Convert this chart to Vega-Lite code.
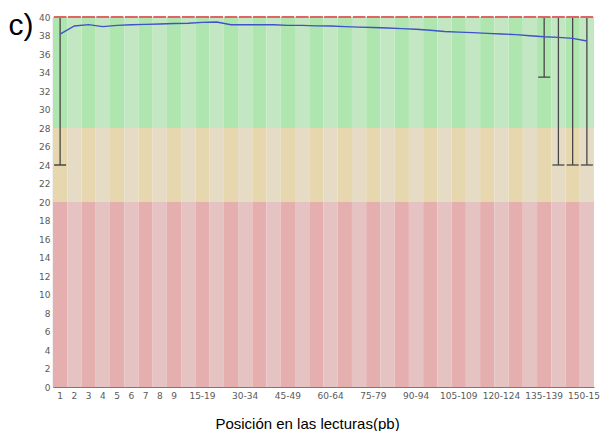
{
  "$schema": "https://vega.github.io/schema/vega-lite/v6.json",
  "autosize": {"type": "none"},
  "width": 541,
  "height": 370,
  "padding": {"left": 53, "top": 17, "right": 6, "bottom": 44},
  "background": "white",
  "config": {
    "view": {"stroke": null},
    "font": "DejaVu Sans",
    "axis": {
      "grid": false,
      "ticks": false,
      "domainColor": "#7a7a7a",
      "domainWidth": 1.2,
      "labelColor": "#5a5a5a",
      "labelFontSize": 9,
      "labelFlush": false,
      "labelOverlap": false,
      "labelBound": false,
      "titleFont": "Liberation Sans",
      "titleFontWeight": "normal",
      "titleColor": "#000000"
    },
    "axisY": {
      "tickCount": 20,
      "labelPadding": 3,
      "titleAngle": 0,
      "titleX": -45,
      "titleY": 17,
      "titleAlign": "left",
      "titleBaseline": "alphabetic",
      "titleFontSize": 30
    },
    "axisX": {
      "labelAngle": 0,
      "labelPadding": 4,
      "titleFontSize": 15,
      "titleX": 254,
      "titleY": 41,
      "titleAlign": "center",
      "titleBaseline": "alphabetic"
    }
  },
  "data": {
    "values": [
      {"pos": "1", "idx": 1, "mean": 38.16, "median": 40, "p10": 24, "p90": 40},
      {"pos": "2", "idx": 2, "mean": 39.03, "median": 40, "p10": 40, "p90": 40},
      {"pos": "3", "idx": 3, "mean": 39.17, "median": 40, "p10": 40, "p90": 40},
      {"pos": "4", "idx": 4, "mean": 38.96, "median": 40, "p10": 40, "p90": 40},
      {"pos": "5", "idx": 5, "mean": 39.1, "median": 40, "p10": 40, "p90": 40},
      {"pos": "6", "idx": 6, "mean": 39.17, "median": 40, "p10": 40, "p90": 40},
      {"pos": "7", "idx": 7, "mean": 39.2, "median": 40, "p10": 40, "p90": 40},
      {"pos": "8", "idx": 8, "mean": 39.24, "median": 40, "p10": 40, "p90": 40},
      {"pos": "9", "idx": 9, "mean": 39.3, "median": 40, "p10": 40, "p90": 40},
      {"pos": "10-14", "idx": 10, "mean": 39.33, "median": 40, "p10": 40, "p90": 40},
      {"pos": "15-19", "idx": 11, "mean": 39.42, "median": 40, "p10": 40, "p90": 40},
      {"pos": "20-24", "idx": 12, "mean": 39.46, "median": 40, "p10": 40, "p90": 40},
      {"pos": "25-29", "idx": 13, "mean": 39.17, "median": 40, "p10": 40, "p90": 40},
      {"pos": "30-34", "idx": 14, "mean": 39.17, "median": 40, "p10": 40, "p90": 40},
      {"pos": "35-39", "idx": 15, "mean": 39.17, "median": 40, "p10": 40, "p90": 40},
      {"pos": "40-44", "idx": 16, "mean": 39.16, "median": 40, "p10": 40, "p90": 40},
      {"pos": "45-49", "idx": 17, "mean": 39.1, "median": 40, "p10": 40, "p90": 40},
      {"pos": "50-54", "idx": 18, "mean": 39.09, "median": 40, "p10": 40, "p90": 40},
      {"pos": "55-59", "idx": 19, "mean": 39.04, "median": 40, "p10": 40, "p90": 40},
      {"pos": "60-64", "idx": 20, "mean": 39.03, "median": 40, "p10": 40, "p90": 40},
      {"pos": "65-69", "idx": 21, "mean": 38.96, "median": 40, "p10": 40, "p90": 40},
      {"pos": "70-74", "idx": 22, "mean": 38.9, "median": 40, "p10": 40, "p90": 40},
      {"pos": "75-79", "idx": 23, "mean": 38.87, "median": 40, "p10": 40, "p90": 40},
      {"pos": "80-84", "idx": 24, "mean": 38.81, "median": 40, "p10": 40, "p90": 40},
      {"pos": "85-89", "idx": 25, "mean": 38.74, "median": 40, "p10": 40, "p90": 40},
      {"pos": "90-94", "idx": 26, "mean": 38.67, "median": 40, "p10": 40, "p90": 40},
      {"pos": "95-99", "idx": 27, "mean": 38.57, "median": 40, "p10": 40, "p90": 40},
      {"pos": "100-104", "idx": 28, "mean": 38.44, "median": 40, "p10": 40, "p90": 40},
      {"pos": "105-109", "idx": 29, "mean": 38.36, "median": 40, "p10": 40, "p90": 40},
      {"pos": "110-114", "idx": 30, "mean": 38.31, "median": 40, "p10": 40, "p90": 40},
      {"pos": "115-119", "idx": 31, "mean": 38.23, "median": 40, "p10": 40, "p90": 40},
      {"pos": "120-124", "idx": 32, "mean": 38.16, "median": 40, "p10": 40, "p90": 40},
      {"pos": "125-129", "idx": 33, "mean": 38.09, "median": 40, "p10": 40, "p90": 40},
      {"pos": "130-134", "idx": 34, "mean": 37.98, "median": 40, "p10": 40, "p90": 40},
      {"pos": "135-139", "idx": 35, "mean": 37.87, "median": 40, "p10": 33.5, "p90": 40},
      {"pos": "140-144", "idx": 36, "mean": 37.8, "median": 40, "p10": 24, "p90": 40},
      {"pos": "145-149", "idx": 37, "mean": 37.69, "median": 40, "p10": 24, "p90": 40},
      {"pos": "150-151", "idx": 38, "mean": 37.4, "median": 40, "p10": 24, "p90": 40}
    ]
  },
  "encoding": {
    "x": {
      "field": "pos",
      "type": "ordinal",
      "sort": {"field": "idx", "op": "min"},
      "scale": {"paddingInner": 0, "paddingOuter": 0},
      "axis": {
        "title": "Posición en las lecturas(pb)",
        "values": ["1", "2", "3", "4", "5", "6", "7", "8", "9", "15-19", "30-34", "45-49", "60-64", "75-79", "90-94", "105-109", "120-124", "135-139", "150-151"]
      }
    }
  },
  "layer": [
    {
      "mark": {"type": "bar"},
      "encoding": {
        "y": {
          "datum": 28,
          "type": "quantitative",
          "scale": {"domain": [0, 40], "nice": false},
          "title": "c)"
        },
        "y2": {"datum": 40},
        "fill": {"condition": {"test": "datum.idx % 2 === 1", "value": "#afe6af"}, "value": "#c3e6c3"}
      }
    },
    {
      "mark": {"type": "bar"},
      "encoding": {
        "y": {"datum": 20, "type": "quantitative", "title": "c)"},
        "y2": {"datum": 28},
        "fill": {"condition": {"test": "datum.idx % 2 === 1", "value": "#e6d7af"}, "value": "#e6dcc6"}
      }
    },
    {
      "mark": {"type": "bar"},
      "encoding": {
        "y": {"datum": 0, "type": "quantitative", "title": "c)"},
        "y2": {"datum": 20},
        "fill": {"condition": {"test": "datum.idx % 2 === 1", "value": "#e6afaf"}, "value": "#e6c3c3"}
      }
    },
    {
      "mark": {"type": "rule", "color": "#474747", "strokeWidth": 1.3},
      "encoding": {
        "y": {"field": "p10", "type": "quantitative", "title": "c)"},
        "y2": {"field": "p90"}
      }
    },
    {
      "mark": {"type": "tick", "orient": "horizontal", "size": 12, "thickness": 1.3, "color": "#474747", "opacity": 1},
      "encoding": {"y": {"field": "p10", "type": "quantitative", "title": "c)"}}
    },
    {
      "mark": {"type": "tick", "orient": "horizontal", "size": 12, "thickness": 1.3, "color": "#474747", "opacity": 1},
      "encoding": {"y": {"field": "p90", "type": "quantitative", "title": "c)"}}
    },
    {
      "mark": {"type": "tick", "orient": "horizontal", "size": 12.5, "thickness": 2, "color": "#e06464", "opacity": 1},
      "encoding": {"y": {"field": "median", "type": "quantitative", "title": "c)"}}
    },
    {
      "mark": {"type": "line", "color": "#3f52c8", "strokeWidth": 1.4},
      "encoding": {"y": {"field": "mean", "type": "quantitative", "title": "c)"}}
    }
  ]
}
